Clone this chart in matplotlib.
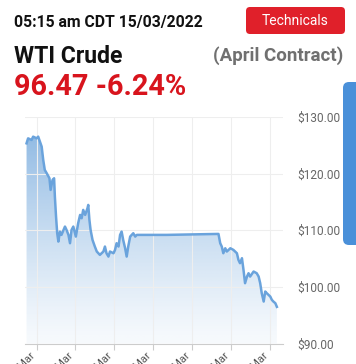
import numpy as np
import matplotlib.pyplot as plt
from matplotlib.patches import FancyBboxPatch, Polygon

plt.rcParams['font.family'] = ['Roboto', 'DejaVu Sans']

# time in days from first tick (09 Mar 00:00), price in USD
days = [-0.26, -0.22, -0.13, -0.09, 0.00, 0.04, 0.085, 0.13, 0.17, 0.21,
        0.26, 0.33, 0.36, 0.41, 0.45, 0.47, 0.50, 0.53, 0.56, 0.60,
        0.64, 0.73, 0.77, 0.82, 0.86, 0.90, 0.945, 1.01, 1.07, 1.12,
        1.16, 1.20, 1.25, 1.31, 1.33, 1.36, 1.39, 1.44, 1.50, 1.55,
        1.63, 1.72, 1.76, 1.80, 1.85, 1.89, 1.98, 2.02, 2.06, 2.11,
        2.15, 2.19, 2.23, 2.28, 2.32, 2.36, 2.41, 2.45, 2.49, 2.54,
        2.58, 3.35, 4.21, 4.685, 4.73, 4.77, 4.81, 4.86, 4.90, 4.99,
        5.07, 5.16, 5.20, 5.24, 5.29, 5.33, 5.37, 5.42, 5.46, 5.50,
        5.59, 5.67, 5.72, 5.76, 5.80, 5.85, 5.89, 5.93, 6.02, 6.06,
        6.10, 6.15, 6.19]
price = [125.35, 126.23, 125.94, 126.53, 126.23, 126.53, 125.65, 124.76, 122.41, 120.65,
         120.06, 119.18, 117.12, 118.88, 119.18, 115.94, 112.41, 109.47, 108.00, 109.76,
         109.18, 110.65, 110.06, 109.18, 107.71, 110.06, 110.65, 108.88, 111.24, 112.71,
         112.12, 113.59, 112.71, 113.88, 114.47, 111.82, 110.06, 108.29, 107.12, 106.24,
         105.65, 106.24, 107.12, 105.94, 105.35, 106.24, 105.94, 106.53, 107.71, 107.12,
         109.18, 109.76, 108.29, 106.82, 105.35, 107.12, 108.88, 109.18, 109.47, 108.88,
         109.18, 109.18, 109.29, 109.35, 107.71, 107.12, 105.94, 106.82, 106.24, 106.82,
         106.53, 105.94, 104.76, 104.18, 105.06, 103.00, 100.65, 101.82, 102.41, 101.82,
         102.71, 102.41, 101.82, 100.65, 98.88, 97.41, 99.18, 98.88, 98.29, 97.71,
         97.41, 97.12, 96.47]

tick_days = [0, 1, 2, 3, 4, 5, 6]
tick_labels = ['09 Mar', '10 Mar', '11 Mar', '12 Mar', '13 Mar', '14 Mar', '15 Mar']
y_ticks = [90, 100, 110, 120, 130]

fig = plt.figure(figsize=(3.56, 3.64), dpi=100)
fig.patch.set_facecolor('white')
ax = fig.add_axes([0.0702, 0.0563, 0.725, 0.6223])
xmin, xmax = -0.30, 6.35
ax.set_xlim(xmin, xmax)
ax.set_ylim(90, 130)

# gradient fill under the line
verts = [(days[0], 90)] + list(zip(days, price)) + [(days[-1], 90)]
poly = Polygon(verts, closed=True, facecolor='none', edgecolor='none')
ax.add_patch(poly)
grad = np.zeros((256, 1, 4))
t = np.linspace(1, 0, 256)
grad[:, 0, 0] = 0.36
grad[:, 0, 1] = 0.60
grad[:, 0, 2] = 0.84
grad[:, 0, 3] = 0.05 + 0.68 * t ** 1.2
im = ax.imshow(grad, extent=[xmin, xmax, 90, 130], aspect='auto', zorder=1)
im.set_clip_path(poly)

ax.plot(days, price, color='#6aa3dc', lw=1.8, zorder=3)

ax.set_xticks(tick_days)
ax.set_xticklabels(tick_labels, rotation=45, ha='right', va='top',
                   fontsize=8, color='#555555')
ax.tick_params(axis='x', length=4, color='#cccccc', pad=1)
ax.yaxis.tick_right()
ax.set_yticks(y_ticks)
ax.set_yticklabels(['${:.2f}'.format(v) for v in y_ticks], fontsize=8.6,
                   color='#666666')
ax.tick_params(axis='y', length=0, pad=10)
ax.grid(True, color='#eeeeee', lw=0.8, zorder=0)
for s in ['top', 'left', 'right']:
    ax.spines[s].set_visible(False)
ax.spines['bottom'].set_color('#cccccc')

# header overlay in pixel coordinates
ov = fig.add_axes([0, 0, 1, 1])
ov.set_xlim(0, 356)
ov.set_ylim(364, 0)
ov.axis('off')
ov.patch.set_alpha(0)

ov.text(14, 27, '05:15 am CDT 15/03/2022', fontsize=11.3, fontweight='bold',
        color='#111111', va='baseline')
ov.text(14, 63, 'WTI Crude', fontsize=16.6, fontweight='bold',
        color='#111111', va='baseline')
ov.text(14, 95, '96.47 -6.24%', fontsize=20.8, fontweight='bold',
        color='#d8141d', va='baseline')
ov.text(343, 61, '(April Contract)', fontsize=13.5, fontweight='bold',
        color='#707070', va='baseline', ha='right')

btn = FancyBboxPatch((249, 10), 93, 21, boxstyle='round,pad=3,rounding_size=4',
                     facecolor='#e0202a', edgecolor='none')
ov.add_patch(btn)
ov.text(295.5, 21, 'Technicals', fontsize=10, color='white',
        ha='center', va='center')

side = FancyBboxPatch((346, 85), 20, 157, boxstyle='round,pad=3,rounding_size=6',
                      facecolor='#4a90d9', edgecolor='none')
ov.add_patch(side)

fig.savefig('out.png', dpi=100)
